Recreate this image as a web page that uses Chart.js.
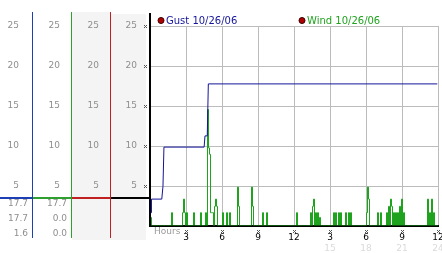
<!DOCTYPE html>
<html>
<head>
<meta charset="utf-8">
<script src="https://cdn.jsdelivr.net/npm/chart.js@4.4.1/dist/chart.umd.min.js"></script>
<style>
    html, body { margin: 0; padding: 0; background: #fff; }
    #wrap { width: 442px; height: 253px; }
</style>
</head>
<body>
<div id="wrap"><canvas id="windChart" width="442" height="253"></canvas></div>
<script>
// Gust 10/26/06: hours after midnight, mph
const gustHours = [0, 0.08, 0.94, 1.04, 1.12, 4.47, 4.54, 4.73, 4.82, 23.9];
const gustSpeeds = [1.6, 3.3, 3.3, 4.9, 9.8, 9.8, 11.2, 11.2, 17.7, 17.7];

// Wind 10/26/06: 5 minute sample number, mph (samples not listed read 0)
const windSamples = [0, 21, 32, 33, 34, 36, 43, 50, 55, 57, 58, 59, 60, 61, 62, 64, 65, 66,
    72, 76, 79, 87, 88, 101, 102, 112, 116, 146, 160, 162, 163, 165, 167, 169,
    183, 185, 188, 190, 195, 198, 200, 216, 217, 218, 227, 230,
    236, 238, 240, 241, 243, 245, 247, 249, 251, 253, 277, 279, 281, 283];
const windSpeeds = [1.0, 1.6, 1.6, 3.3, 1.6, 1.6, 1.6, 1.6, 1.6, 14.5, 9.7, 8.9, 1.6, 1.6, 1.6, 2.4, 3.3, 2.4,
    1.6, 1.6, 1.6, 4.8, 2.4, 4.8, 2.4, 1.6, 1.6, 1.6, 1.6, 2.4, 3.3, 1.6, 1.6, 1.0,
    1.6, 1.6, 1.6, 1.6, 1.6, 1.6, 1.6, 1.6, 4.8, 3.3, 1.6, 1.6,
    1.6, 2.4, 3.3, 2.4, 1.6, 1.6, 1.6, 2.4, 3.3, 1.6, 3.3, 1.6, 3.3, 1.6];

// readouts under the side columns
const gustReadout = ['17.7', '17.7', '1.6'];
const windReadout = ['17.7', '0.0', '0.0'];

const seriesLabels = ['Gust 10/26/06', 'Wind 10/26/06'];
const gustColor = '#14149a';
const windColor = '#1fa31f';
const tickGray = '#8e8e8e';
const FONT = 'DejaVu Sans';

const gustPoints = gustHours.map((h, i) => ({ x: h, y: gustSpeeds[i] }));

const windPoints = [];
if (windSamples[0] > 0) windPoints.push({ x: 0, y: 0 });
windSamples.forEach((n, i) => {
    windPoints.push({ x: n / 12, y: windSpeeds[i] });
    if (windSamples[i + 1] !== n + 1) windPoints.push({ x: (n + 1) / 12, y: 0 });
});
windPoints.push({ x: 24, y: 0 });

function sideAxis(weight, width, pad) {
    return {
        position: 'left',
        weight: weight,
        min: 0,
        max: 25,
        grid: { display: false, drawTicks: false },
        border: { display: false },
        ticks: {
            stepSize: 5,
            padding: pad,
            color: tickGray,
            font: { family: FONT, size: 9 },
            callback: v => v === 0 ? '' : v
        },
        afterFit: s => { s.width = width; s.paddingTop = 0; s.paddingBottom = 0; }
    };
}

function drawMark(ctx, cx, cy) {
    ctx.fillStyle = '#555';
    [[-1, -1], [1, -1], [0, 0], [-1, 1], [1, 1]].forEach(([dx, dy]) => {
        ctx.fillRect(Math.round(cx) + dx, Math.round(cy) + dy, 1, 1);
    });
}

const panelPlugin = {
    id: 'panel',
    beforeDraw(chart) {
        const ctx = chart.ctx;
        const s = chart.scales;
        ctx.save();
        ctx.fillStyle = '#fff';
        ctx.fillRect(0, 0, chart.width, chart.height);
        ctx.fillStyle = '#f4f4f4';
        ctx.fillRect(s.yAux.left, 12, s.yAux.width, 228);
        ctx.fillRect(s.y.left, 14, s.y.width - 4, 226);
        ctx.restore();
    },
    // keep 1px lines crisp on the pixel grid
    beforeDatasetsDraw(chart) {
        chart.ctx.save();
        chart.ctx.translate(0.5, -0.5);
    },
    afterDatasetsDraw(chart) {
        chart.ctx.restore();
    },
    afterDraw(chart) {
        const ctx = chart.ctx;
        const s = chart.scales;
        const area = chart.chartArea;
        ctx.save();

        // column separators
        const cols = [[s.yGust, '#1c3fb5'], [s.yWind, '#2ea02e'], [s.yAux, '#c02020']];
        cols.forEach(([sc, col]) => {
            ctx.fillStyle = col;
            ctx.fillRect(Math.round(sc.right) - 1, 12, 1, 226);
        });
        ctx.fillStyle = '#000';
        ctx.fillRect(area.left - 1, 13, 2, area.bottom - 13);

        // readout rule
        const ruleY = Math.round(area.bottom) - 29;
        cols.concat([[s.y, '#000']]).forEach(([sc, col]) => {
            ctx.fillStyle = col;
            ctx.fillRect(sc.left, ruleY, sc.width, 2);
        });

        // readouts
        ctx.font = '9px ' + FONT;
        ctx.fillStyle = tickGray;
        ctx.textAlign = 'right';
        ctx.textBaseline = 'middle';
        gustReadout.forEach((t, i) => ctx.fillText(t, s.yGust.right - 5, ruleY + 7 + i * 15));
        windReadout.forEach((t, i) => ctx.fillText(t, s.yWind.right - 5, ruleY + 7 + i * 15));

        // small tick marks
        s.y.ticks.forEach(t => {
            if (t.value > 0) drawMark(ctx, area.left - 5, s.y.getPixelForValue(t.value));
        });
        s.x.ticks.forEach(t => {
            if (t.value > 0) drawMark(ctx, s.x.getPixelForValue(t.value), area.bottom + 5);
        });

        // axis word
        ctx.textAlign = 'left';
        ctx.fillStyle = '#9a9a9a';
        ctx.fillText('Hours', area.left + 4, area.bottom + 6);

        // legend
        const legendX = [area.left + 11, area.left + 152];
        const legendCol = [gustColor, windColor];
        ctx.font = '10px ' + FONT;
        seriesLabels.forEach((lab, i) => {
            ctx.beginPath();
            ctx.arc(legendX[i], 20.5, 3, 0, Math.PI * 2);
            ctx.fillStyle = '#b00000';
            ctx.fill();
            ctx.strokeStyle = '#3a0000';
            ctx.lineWidth = 1;
            ctx.stroke();
            ctx.fillStyle = legendCol[i];
            ctx.fillText(lab, legendX[i] + 5, 21);
        });
        ctx.restore();
    }
};

new Chart(document.getElementById('windChart'), {
    type: 'line',
    data: {
        datasets: [
            {
                label: seriesLabels[0],
                data: gustPoints,
                borderColor: gustColor,
                borderWidth: 1,
                pointRadius: 0,
                tension: 0
            },
            {
                label: seriesLabels[1],
                data: windPoints,
                borderColor: windColor,
                borderWidth: 1,
                pointRadius: 0,
                stepped: true
            }
        ]
    },
    options: {
        responsive: false,
        animation: false,
        layout: { padding: { top: 26, right: 4, left: 0, bottom: 0 } },
        plugins: {
            legend: { display: false },
            tooltip: { enabled: false }
        },
        scales: {
            x: {
                type: 'linear',
                position: 'bottom',
                weight: 0,
                min: 0,
                max: 24,
                grid: { color: '#bcbcbc', drawTicks: false },
                border: { color: '#000', width: 2 },
                ticks: {
                    stepSize: 3,
                    padding: 6,
                    maxRotation: 0,
                    color: '#000',
                    font: { family: FONT, size: 9 },
                    callback: v => v === 0 ? '' : (v > 12 ? v - 12 : v)
                },
                afterFit: s => { s.height = 17; s.paddingLeft = 0; s.paddingRight = 0; }
            },
            x2: {
                type: 'linear',
                position: 'bottom',
                weight: 1,
                min: 0,
                max: 24,
                grid: { display: false, drawTicks: false },
                border: { display: false },
                ticks: {
                    stepSize: 3,
                    padding: 0,
                    maxRotation: 0,
                    color: '#dadada',
                    font: { family: FONT, size: 9 },
                    callback: v => v > 12 ? v : ''
                },
                afterFit: s => { s.height = 10; s.paddingLeft = 0; s.paddingRight = 0; }
            },
            yGust: sideAxis(3, 33, 14),
            yWind: sideAxis(2, 39, 12),
            yAux: sideAxis(1, 39, 12),
            y: {
                position: 'left',
                weight: 0,
                min: 0,
                max: 25,
                grid: { color: '#bcbcbc', drawTicks: false },
                border: { display: false },
                ticks: {
                    stepSize: 5,
                    padding: 13,
                    color: tickGray,
                    font: { family: FONT, size: 9 },
                    callback: v => v === 0 ? '' : v
                },
                afterFit: s => { s.width = 39; s.paddingTop = 0; s.paddingBottom = 0; }
            }
        }
    },
    plugins: [panelPlugin]
});
</script>
</body>
</html>
